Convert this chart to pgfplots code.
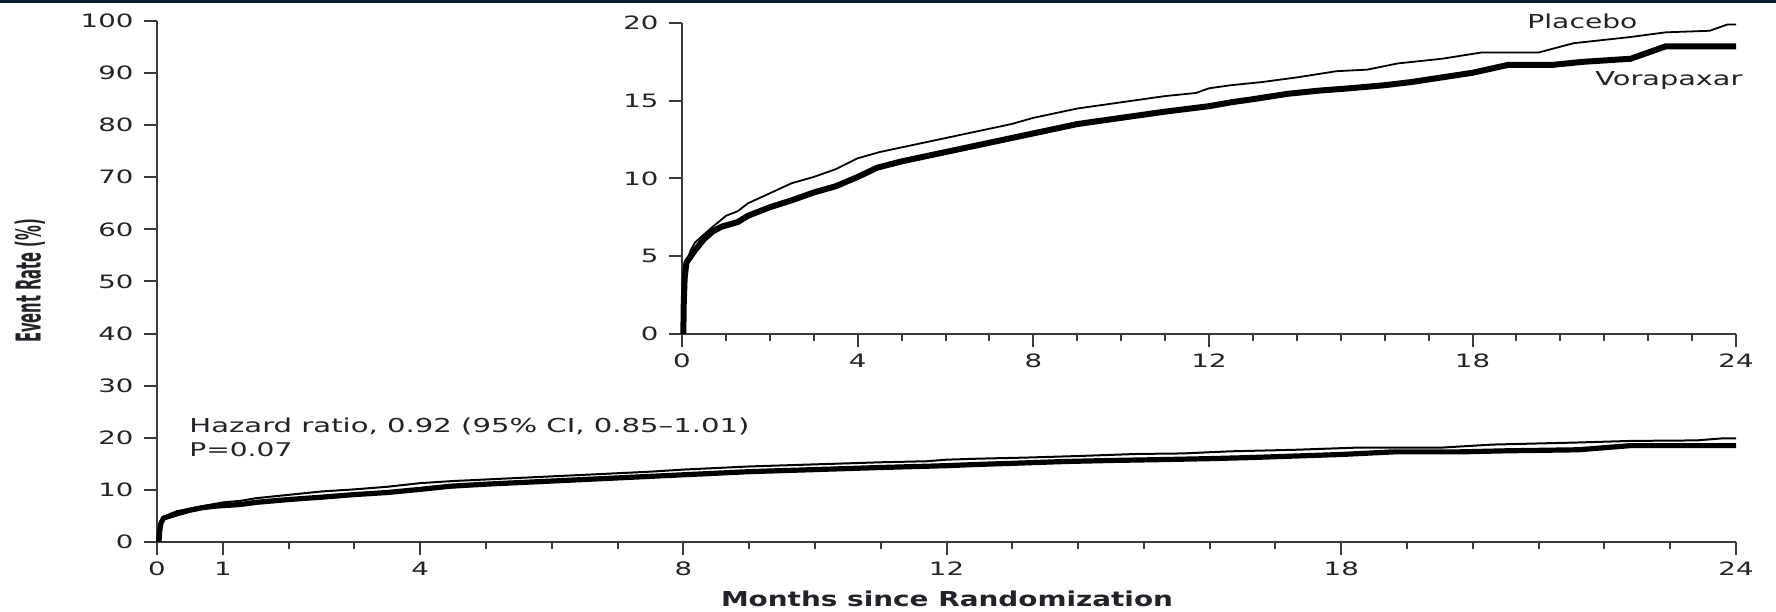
\documentclass[border=0pt]{standalone}
\usepackage{pgfplots}
\pgfplotsset{compat=1.18}
\usepackage{pgfplotstable}
\usepackage{graphicx}
\usepackage{fontspec}
\setmainfont{DejaVu Sans}
\newfontfamily\condfont{DejaVu Sans Condensed}
\definecolor{navy}{HTML}{0B1A33}
\definecolor{axgray}{HTML}{3A3A3A}
\definecolor{txt}{HTML}{222228}

\pgfplotstableread{
m r
0 0
0.02 2.0
0.05 3.6
0.1 4.6
0.2 5.4
0.3 5.9
0.5 6.4
0.66 6.8
1.0 7.6
1.27 7.9
1.5 8.4
2.0 9.05
2.5 9.7
3.0 10.1
3.5 10.6
4.0 11.3
4.5 11.7
5.0 12.0
5.5 12.3
6.0 12.6
6.5 12.9
7.0 13.2
7.5 13.5
8.0 13.9
8.5 14.2
9.0 14.5
9.5 14.7
10.0 14.9
10.5 15.1
11.0 15.3
11.7 15.5
12.0 15.8
12.5 16.0
13.2 16.2
14.0 16.5
14.9 16.9
15.6 17.0
16.3 17.4
17.3 17.7
18.2 18.1
19.5 18.1
20.3 18.7
21.6 19.1
22.4 19.4
23.4 19.5
23.8 19.9
24.0 19.9
}\placebo

\pgfplotstableread{
m r
0.03 0
0.04 2.0
0.06 3.6
0.1 4.6
0.2 5.0
0.3 5.4
0.5 6.1
0.7 6.6
0.9 6.9
1.27 7.2
1.5 7.6
2.0 8.15
2.5 8.6
3.0 9.1
3.5 9.5
4.0 10.1
4.45 10.7
5.0 11.1
5.5 11.4
6.0 11.7
6.5 12.0
7.0 12.3
7.5 12.6
8.0 12.9
8.5 13.2
9.0 13.5
9.5 13.7
10.0 13.9
11.0 14.3
12.0 14.65
12.5 14.9
13.0 15.1
13.8 15.45
14.5 15.65
15.2 15.8
16.0 16.0
16.6 16.2
17.3 16.5
18.0 16.8
18.8 17.3
19.8 17.3
20.5 17.5
21.6 17.7
22.2 18.3
22.4 18.5
24.0 18.5
}\vorapaxar

\pgfplotsset{
  kmstyle/.style={
    scale only axis,
    xmin=0, xmax=24, ymin=0,
    axis lines=left,
    axis line style={-, line width=1pt, color=axgray},
    tick align=outside,
    major tick length=6.5pt,
    minor tick length=3.5pt,
    every tick/.style={line width=1pt, color=axgray},
    tick label style={font=\fontsize{9.2}{10}\selectfont, xscale=1.5, text=txt},
    /pgf/number format/assume math mode=true,
    clip=false,
  }
}

\begin{document}
\begin{tikzpicture}[x=1pt,y=1pt]
\useasboundingbox (0,0) rectangle (888,305.5);
\fill[navy] (0,304) rectangle (888,305.5);

% main axis
\begin{axis}[kmstyle,
  at={(78.5pt,34.5pt)}, anchor=south west,
  width=789.5pt, height=260.5pt,
  ymax=100,
  ytick={0,10,...,100},
  xtick={0,1,4,8,12,18,24},
  minor xtick={2,3,5,6,7,9,10,11,13,14,15,16,17,19,20,21,22,23},
]
\addplot[black, line width=1pt, line join=round] table[x=m,y=r] {\placebo};
\addplot[black, line width=2.6pt, line join=round] table[x=m,y=r] {\vorapaxar};
\end{axis}

% inset
\begin{axis}[kmstyle,
  at={(341pt,138.5pt)}, anchor=south west,
  width=527pt, height=155.5pt,
  ymax=20,
  ytick={0,5,10,15,20},
  xtick={0,4,8,12,18,24},
  minor xtick={1,2,3,5,6,7,9,10,11,13,14,15,16,17,19,20,21,22,23},
]
\addplot[black, line width=0.9pt, line join=round] table[x=m,y=r] {\placebo};
\addplot[black, line width=3pt, line join=round] table[x=m,y=r] {\vorapaxar};
\end{axis}

% texts
\node[anchor=base west, inner sep=0, text=txt] at (94.5,89.5)
  {\resizebox{280pt}{7.3pt}{Hazard ratio, 0.92 (95\% CI, 0.85–1.01)}};
\node[anchor=base west, inner sep=0, text=txt] at (94.5,77.5)
  {\resizebox{51.5pt}{7pt}{P=0.07}};
\node[anchor=base west, inner sep=0, text=txt] at (763.5,291)
  {\resizebox{55pt}{7.3pt}{Placebo}};
\node[anchor=base west, inner sep=0, text=txt] at (797.5,262.5)
  {\resizebox{73.5pt}{7pt}{Vorapaxar}};
\node[anchor=base, inner sep=0, text=txt] at (473.5,2.5)
  {\resizebox{226pt}{7.8pt}{\bfseries Months since Randomization}};
\node[rotate=90, anchor=center, inner sep=0, text=txt] at (15,165)
  {\resizebox{62pt}{13pt}{\condfont\bfseries Event Rate (\%)}};
\end{tikzpicture}
\end{document}
